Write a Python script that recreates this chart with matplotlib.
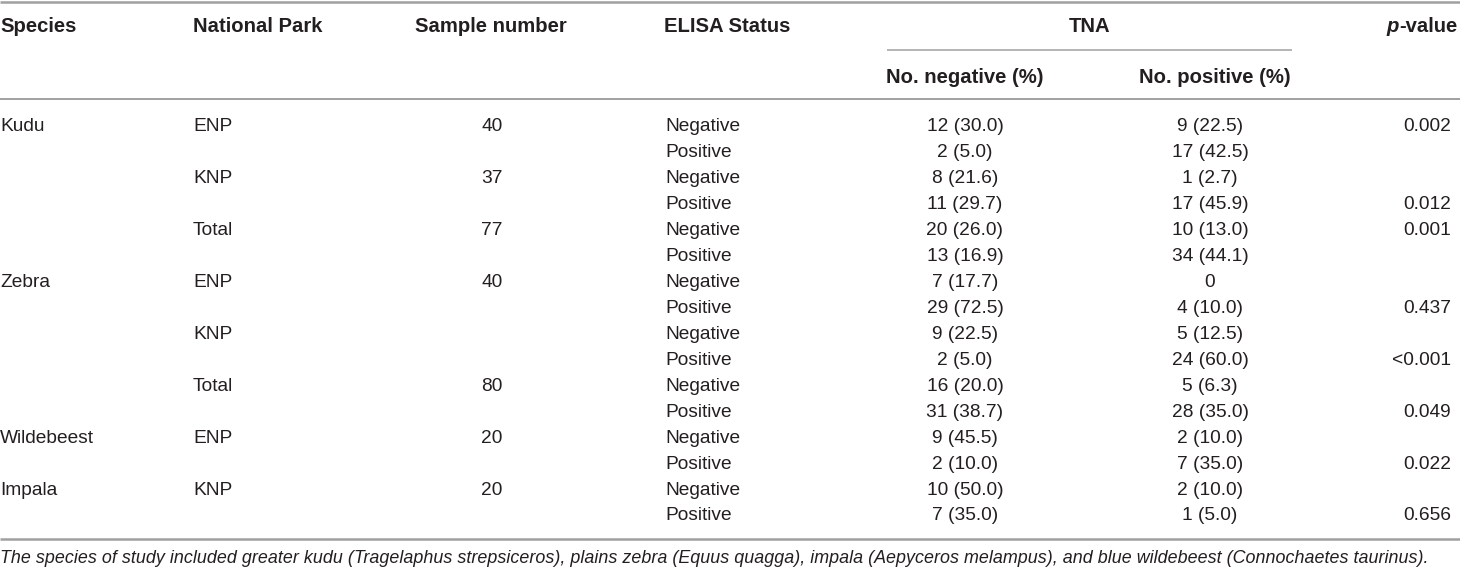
#!/usr/bin/env python3

import matplotlib
matplotlib.use("Agg")
import matplotlib.pyplot as plt

# table contents, one list per column
species = ['Kudu', '', '', '', '', '', 'Zebra', '', '', '', '', '',
           'Wildebeest', '', 'Impala', '']
parks = ['ENP', '', 'KNP', '', 'Total', '', 'ENP', '', 'KNP', '', 'Total', '',
         'ENP', '', 'KNP', '']
samples = ['40', '', '37', '', '77', '', '40', '', '', '', '80', '',
           '20', '', '20', '']
elisa = ['Negative', 'Positive'] * 8
tna_neg = ['12 (30.0)', '2 (5.0)', '8 (21.6)', '11 (29.7)', '20 (26.0)', '13 (16.9)',
           '7 (17.7)', '29 (72.5)', '9 (22.5)', '2 (5.0)', '16 (20.0)', '31 (38.7)',
           '9 (45.5)', '2 (10.0)', '10 (50.0)', '7 (35.0)']
tna_pos = ['9 (22.5)', '17 (42.5)', '1 (2.7)', '17 (45.9)', '10 (13.0)', '34 (44.1)',
           '0', '4 (10.0)', '5 (12.5)', '24 (60.0)', '5 (6.3)', '28 (35.0)',
           '2 (10.0)', '7 (35.0)', '2 (10.0)', '1 (5.0)']
p_values = ['0.002', '', '', '0.012', '0.001', '', '', '0.437', '', '<0.001', '',
            '0.049', '', '0.022', '', '0.656']
footnote = ("The species of study included greater kudu (Tragelaphus strepsiceros), "
            "plains zebra (Equus quagga), impala (Aepyceros melampus), and blue "
            "wildebeest (Connochaetes taurinus).")

plt.rcParams['font.family'] = ['Liberation Sans', 'DejaVu Sans']
TXT = '#231f20'
RULE = '#a0a0a0'
FS = 13.8      # body
HFS = 14.6     # header

W, H = 1460, 569
fig = plt.figure(figsize=(W / 100, H / 100), dpi=100)
ax = fig.add_axes([0, 0, 1, 1])
ax.set_xlim(0, W)
ax.set_ylim(H, 0)
ax.axis('off')

# rules
ax.plot([0, W], [1.5, 1.5], color=RULE, lw=1.8, solid_capstyle='butt')
ax.plot([887, 1292], [50, 50], color=RULE, lw=1.1, solid_capstyle='butt')
ax.plot([0, W], [99, 99], color=RULE, lw=1.4, solid_capstyle='butt')
ax.plot([0, W], [539, 539], color=RULE, lw=1.8, solid_capstyle='butt')

# header
hkw = dict(fontsize=HFS, fontweight='bold', color=TXT, va='baseline')
ax.text(0, 32, 'Species', ha='left', **hkw)
ax.text(193, 32, 'National Park', ha='left', **hkw)
ax.text(491, 32, 'Sample number', ha='center', **hkw)
ax.text(664, 32, 'ELISA Status', ha='left', **hkw)
ax.text(1090, 32, 'TNA', ha='center', **hkw)
pv = ax.text(1457, 32, '-value', ha='right', **hkw)
ax.annotate('p', xy=(0, 0), xycoords=pv, ha='right', va='bottom',
            fontsize=HFS, fontweight='bold', fontstyle='italic', color=TXT)
ax.text(965, 83, 'No. negative (%)', ha='center', **hkw)
ax.text(1215, 83, 'No. positive (%)', ha='center', **hkw)

# body
dkw = dict(fontsize=FS, color=TXT, va='baseline')
for i in range(len(elisa)):
    y = 130.5 + 26 * i
    ax.text(0, y, species[i], ha='left', **dkw)
    ax.text(193, y, parks[i], ha='left', **dkw)
    ax.text(492, y, samples[i], ha='center', **dkw)
    ax.text(665, y, elisa[i], ha='left', **dkw)
    ax.text(965, y, tna_neg[i], ha='center', **dkw)
    ax.text(1210, y, tna_pos[i], ha='center', **dkw)
    ax.text(1451, y, p_values[i], ha='right', **dkw)

ax.text(0, 563, footnote, ha='left', va='baseline', fontsize=12.9,
        fontstyle='italic', color=TXT)

fig.savefig('out.png', dpi=100)
